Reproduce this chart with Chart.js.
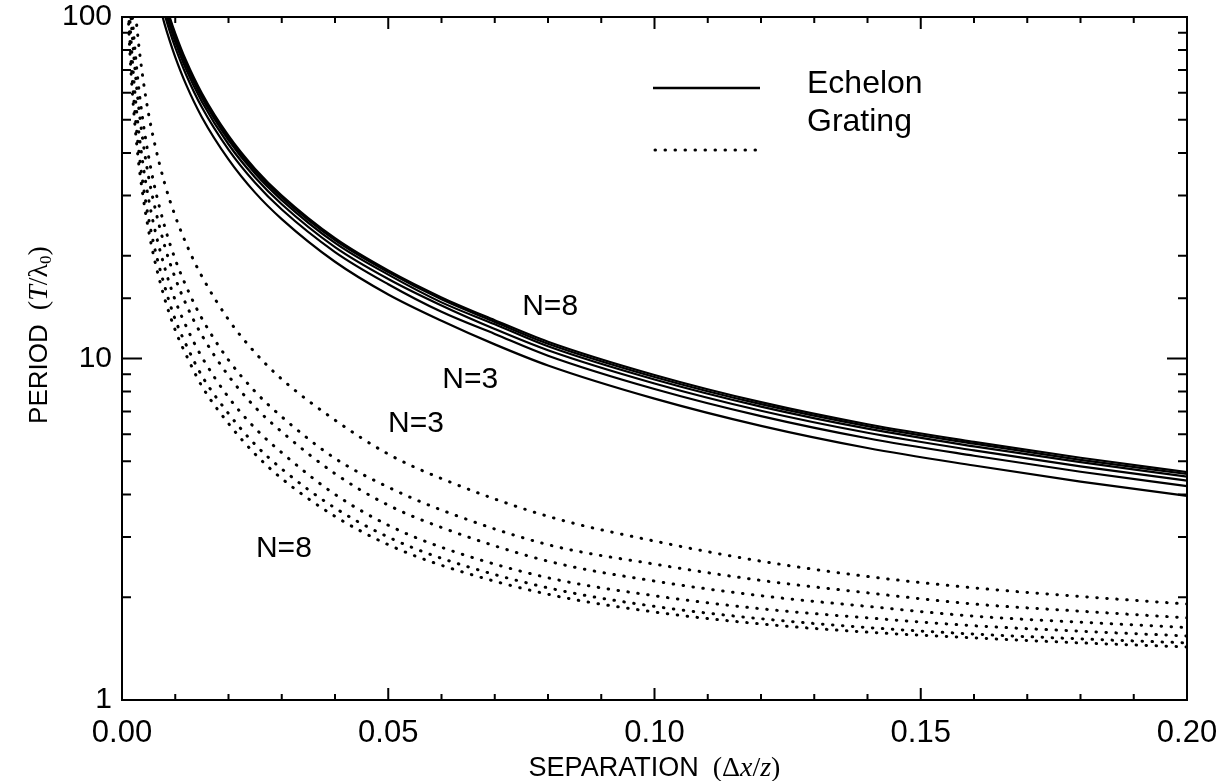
<!DOCTYPE html>
<html>
<head>
<meta charset="utf-8">
<script src="https://cdn.jsdelivr.net/npm/chart.js@4"></script>
<style>
  html, body { margin: 0; padding: 0; background: #fff; }
  canvas { display: block; }
</style>
</head>
<body>
<canvas id="periodChart" width="1227" height="781"></canvas>
<script>
// Separation values (Δx/z) at which the curves were read
const echelonX = [0.007, 0.008, 0.009, 0.010, 0.012, 0.015, 0.020, 0.025, 0.030, 0.040,
                  0.050, 0.060, 0.070, 0.080, 0.100, 0.120, 0.140, 0.160, 0.180, 0.200];

// Echelon periods, N = 3 .. 8
const echelonN3 = [109.0, 95.3, 84.8, 76.3, 63.6, 50.9, 38.3, 30.6, 25.6, 19.2, 15.4, 12.9, 11.0, 9.54, 7.63, 6.35, 5.47, 4.86, 4.36, 3.96];
const echelonN4 = [116.4, 101.8, 90.5, 81.5, 68.0, 54.4, 40.9, 32.7, 27.3, 20.5, 16.5, 13.7, 11.8, 10.19, 8.14, 6.78, 5.84, 5.19, 4.66, 4.23];
const echelonN5 = [120.7, 105.6, 93.9, 84.6, 70.5, 56.5, 42.4, 33.9, 28.3, 21.2, 17.1, 14.3, 12.2, 10.57, 8.45, 7.03, 6.06, 5.38, 4.83, 4.39];
const echelonN6 = [124.1, 108.5, 96.5, 86.9, 72.5, 58.0, 43.6, 34.8, 29.1, 21.8, 17.6, 14.6, 12.6, 10.86, 8.68, 7.23, 6.23, 5.53, 4.97, 4.51];
const echelonN7 = [126.2, 110.4, 98.2, 88.4, 73.7, 59.0, 44.3, 35.4, 29.6, 22.2, 17.9, 14.9, 12.8, 11.05, 8.83, 7.35, 6.34, 5.63, 5.05, 4.59];
const echelonN8 = [127.9, 111.9, 99.5, 89.6, 74.7, 59.8, 44.9, 35.9, 30.0, 22.5, 18.1, 15.1, 12.95, 11.2, 8.95, 7.45, 6.42, 5.70, 5.12, 4.65];

const gratingX = [0.001, 0.0015, 0.002, 0.003, 0.004, 0.005, 0.006, 0.008, 0.010, 0.0125, 0.015, 0.020,
                  0.025, 0.030, 0.040, 0.050, 0.060, 0.080, 0.100, 0.120, 0.140, 0.160, 0.180, 0.200];

// Grating periods, N = 3 .. 8
const gratingN3 = [260, 173, 130, 87, 65, 52, 43.5, 32.6, 26.1, 20.9, 17.4, 13.0, 10.4, 8.7, 6.6, 5.25, 4.45, 3.45, 2.92, 2.55, 2.30, 2.13, 2.01, 1.91];
const gratingN4 = [195, 130, 97.5, 65, 48.8, 39, 32.5, 24.4, 19.5, 15.7, 13.1, 9.9, 8.0, 6.75, 5.1, 4.2, 3.6, 2.85, 2.50, 2.24, 2.06, 1.91, 1.82, 1.74];
const gratingN5 = [170, 113, 85, 57, 42.5, 34, 28.5, 21.4, 17.2, 13.9, 11.7, 8.9, 7.2, 6.1, 4.6, 3.72, 3.2, 2.55, 2.23, 2.02, 1.88, 1.76, 1.69, 1.63];
const gratingN6 = [145, 97, 72.5, 48.5, 36.5, 29.3, 24.5, 18.5, 14.8, 12.0, 10.1, 7.7, 6.25, 5.3, 4.0, 3.25, 2.8, 2.28, 2.02, 1.85, 1.74, 1.65, 1.59, 1.54];
const gratingN7 = [127, 85, 63.5, 42.5, 32, 25.7, 21.5, 16.3, 13.0, 10.6, 8.9, 6.9, 5.6, 4.75, 3.65, 3.0, 2.6, 2.13, 1.88, 1.73, 1.63, 1.56, 1.51, 1.47];
const gratingN8 = [117, 78, 58.5, 39, 29.5, 23.7, 19.8, 15.0, 12.1, 9.9, 8.3, 6.45, 5.25, 4.45, 3.45, 2.85, 2.48, 2.04, 1.81, 1.67, 1.58, 1.52, 1.47, 1.43];

// Curve labels placed in data coordinates
const curveLabels = [
    { text: 'N=8', x: 0.0804, y: 14.2 },
    { text: 'N=3', x: 0.0654, y: 8.65 },
    { text: 'N=3', x: 0.0552, y: 6.43 },
    { text: 'N=8', x: 0.0304, y: 2.77 }
];

const xTickLabels = ['0.00', '0.05', '0.10', '0.15', '0.20'];
const yTickLabels = ['1', '10', '100'];

const SANS = "'Liberation Sans', Arial, Helvetica, sans-serif";
const SERIF = "'Liberation Serif', 'DejaVu Serif', serif";
Chart.defaults.font.family = SANS;
Chart.defaults.color = '#000';

function toPoints(xs, ys) {
    return xs.map((x, i) => ({ x: x, y: ys[i] }));
}

function echelonSet(label, ys) {
    return {
        label: label,
        data: toPoints(echelonX, ys),
        borderColor: '#000',
        borderWidth: 2.2,
        pointRadius: 0,
        cubicInterpolationMode: 'monotone',
        clip: 1
    };
}

function gratingSet(label, ys) {
    return {
        label: label,
        data: toPoints(gratingX, ys),
        borderColor: '#000',
        borderWidth: 3,
        borderDash: [0.5, 9.5],
        borderCapStyle: 'round',
        pointRadius: 0,
        cubicInterpolationMode: 'monotone',
        clip: 1
    };
}

// draw a row of text pieces with mixed fonts, centred on (cx, cy)
function drawRuns(ctx, runs, cx, cy) {
    let total = 0;
    runs.forEach(r => { ctx.font = r.font; r.w = ctx.measureText(r.text).width; total += r.w; });
    let x = cx - total / 2;
    ctx.textAlign = 'left';
    ctx.textBaseline = 'alphabetic';
    runs.forEach(r => {
        ctx.font = r.font;
        ctx.fillText(r.text, x, cy + (r.dy || 0));
        x += r.w;
    });
}

// Frame, inward ticks, axis titles, legend and curve labels
const decorations = {
    id: 'decorations',
    afterDatasetsDraw(chart) {
        const { ctx, chartArea: a, scales: { x, y } } = chart;
        ctx.save();
        ctx.strokeStyle = '#000';
        ctx.lineWidth = 2;
        ctx.setLineDash([]);
        ctx.strokeRect(a.left, a.top, a.right - a.left, a.bottom - a.top);

        ctx.beginPath();
        x.ticks.forEach(t => {
            const px = x.getPixelForValue(t.value);
            const major = Math.round(t.value * 100) % 5 === 0;
            const len = major ? 12 : 6;
            ctx.moveTo(px, a.bottom); ctx.lineTo(px, a.bottom - len);
            ctx.moveTo(px, a.top); ctx.lineTo(px, a.top + len);
        });
        y.ticks.forEach(t => {
            const py = y.getPixelForValue(t.value);
            const lg = Math.log10(t.value);
            const major = Math.abs(lg - Math.round(lg)) < 1e-6;
            const len = major ? 20 : 9;
            ctx.moveTo(a.left, py); ctx.lineTo(a.left + len, py);
            ctx.moveTo(a.right, py); ctx.lineTo(a.right - len, py);
        });
        ctx.stroke();

        // legend
        ctx.lineWidth = 2.5;
        ctx.beginPath();
        ctx.moveTo(653, 88); ctx.lineTo(760, 88);
        ctx.stroke();
        ctx.lineWidth = 3;
        ctx.lineCap = 'round';
        ctx.setLineDash([0.5, 9.5]);
        ctx.beginPath();
        ctx.moveTo(655, 150); ctx.lineTo(760, 150);
        ctx.stroke();
        ctx.setLineDash([]);

        ctx.fillStyle = '#000';
        ctx.font = '32px ' + SANS;
        ctx.textAlign = 'left';
        ctx.textBaseline = 'alphabetic';
        ctx.fillText('Echelon', 807, 93);
        ctx.fillText('Grating', 807, 131);

        ctx.font = '30px ' + SANS;
        ctx.textAlign = 'center';
        ctx.textBaseline = 'middle';
        curveLabels.forEach(l => {
            ctx.fillText(l.text, x.getPixelForValue(l.x), y.getPixelForValue(l.y));
        });

        // axis titles
        drawRuns(ctx, [
            { text: 'SEPARATION', font: '27px ' + SANS },
            { text: '  (Δ', font: '28px ' + SERIF },
            { text: 'x', font: 'italic 28px ' + SERIF },
            { text: '/', font: '28px ' + SERIF },
            { text: 'z', font: 'italic 28px ' + SERIF },
            { text: ')', font: '28px ' + SERIF }
        ], (a.left + a.right) / 2, 776);

        ctx.save();
        ctx.translate(47, 335);
        ctx.rotate(-Math.PI / 2);
        drawRuns(ctx, [
            { text: 'PERIOD', font: '26px ' + SANS },
            { text: '  (', font: '28px ' + SERIF },
            { text: 'T', font: 'italic 28px ' + SERIF },
            { text: '/', font: '28px ' + SERIF },
            { text: 'λ', font: '28px ' + SERIF },
            { text: '0', font: '17px ' + SERIF, dy: 4 },
            { text: ')', font: '28px ' + SERIF }
        ], 0, 0);
        ctx.restore();

        ctx.restore();
    }
};

new Chart(document.getElementById('periodChart'), {
    type: 'line',
    data: {
        datasets: [
            echelonSet('Echelon N=3', echelonN3),
            echelonSet('Echelon N=4', echelonN4),
            echelonSet('Echelon N=5', echelonN5),
            echelonSet('Echelon N=6', echelonN6),
            echelonSet('Echelon N=7', echelonN7),
            echelonSet('Echelon N=8', echelonN8),
            gratingSet('Grating N=3', gratingN3),
            gratingSet('Grating N=4', gratingN4),
            gratingSet('Grating N=5', gratingN5),
            gratingSet('Grating N=6', gratingN6),
            gratingSet('Grating N=7', gratingN7),
            gratingSet('Grating N=8', gratingN8)
        ]
    },
    options: {
        responsive: false,
        animation: false,
        layout: {
            padding: 0
        },
        plugins: {
            legend: { display: false },
            tooltip: { enabled: false }
        },
        scales: {
            x: {
                type: 'linear',
                min: 0,
                max: 0.2,
                grid: { display: false, drawTicks: false },
                border: { display: false },
                ticks: {
                    stepSize: 0.01,
                    autoSkip: false,
                    maxRotation: 0,
                    padding: 15,
                    color: '#000',
                    font: { size: 31 },
                    callback: function(value) {
                        const k = Math.round(value * 100);
                        return k % 5 === 0 ? xTickLabels[k / 5] : '';
                    }
                },
                afterFit: function(scale) {
                    scale.height = 81;
                    scale.paddingLeft = 0;
                    scale.paddingRight = 40;
                }
            },
            y: {
                type: 'logarithmic',
                min: 1,
                max: 100,
                grid: { display: false, drawTicks: false },
                border: { display: false },
                ticks: {
                    autoSkip: false,
                    padding: 10,
                    color: '#000',
                    font: { size: 30 },
                    callback: function(value) {
                        const lg = Math.log10(value);
                        const k = Math.round(lg);
                        return Math.abs(lg - k) < 1e-6 ? yTickLabels[k] : '';
                    }
                },
                afterFit: function(scale) {
                    scale.width = 122;
                    scale.paddingTop = 17;
                    scale.paddingBottom = 0;
                }
            }
        }
    },
    plugins: [decorations]
});
</script>
</body>
</html>
